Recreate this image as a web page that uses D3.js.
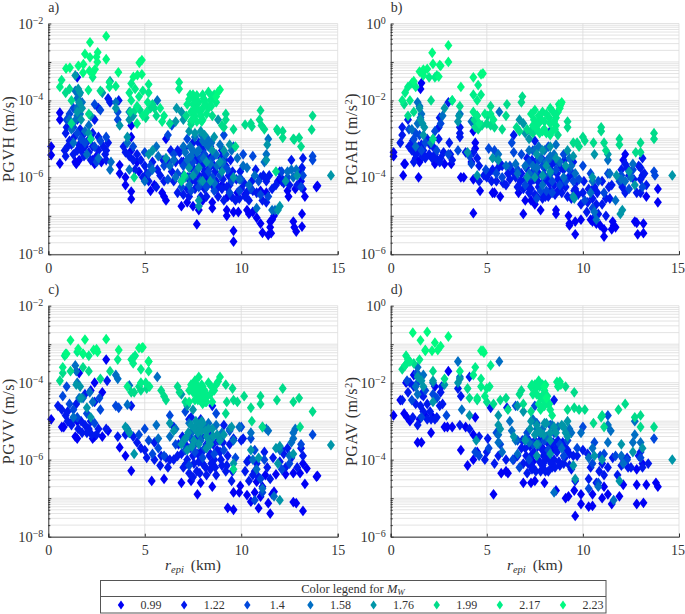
<!DOCTYPE html>
<html><head><meta charset="utf-8">
<script src="https://cdn.jsdelivr.net/npm/d3@7"></script>
<style>html,body{margin:0;padding:0;background:#fff}svg{display:block}text{font-family:"Liberation Serif",serif;fill:#333}</style>
</head><body><svg id="c" width="685" height="614"></svg>
<script>
const magnitudes=["0.99","1.22","1.4","1.58","1.76","1.99","2.17","2.23"];
const colors=["#0000f5","#0018ee","#0048dc","#006ec4","#0096a8","#00dc8a","#00ee88","#00fa80"];
const xTicks=[0,5,10,15];

// each point: [r_epi km, log10 of the peak value]
const a_099=[[0.6,-5.64],[0.15,-5.42],[0.15,-5.2],[1.4,-5.6],[1.45,-5.65],[1.6,-5.55],[2.3,-5.55],[2.4,-5.65],[2.5,-5.45],[2.75,-5.6],[3.7,-5.68],[3.7,-5.9],[4,-6],[4,-6.2],[4.3,-6.56],[4.3,-6.37],[4.3,-5.3],[4.6,-5.6],[4.7,-5.85],[5.3,-6.35],[5.5,-6.2],[5.9,-6.4],[6,-6.5],[6.1,-6.6],[6.9,-6.75],[7.2,-6.65],[7.5,-6.75],[7.7,-7.22],[7.8,-6.85],[8,-6.6],[8.5,-6.65],[8.5,-6.8],[9.25,-6.85],[9.25,-7],[9.6,-7.39],[9.6,-7.67],[9.6,-6.9],[9.85,-6.9],[10.3,-6.85],[10.4,-6.95],[10.6,-6.9],[10.8,-7.05],[11,-7.2],[11.1,-7.44],[11.4,-7.5],[11.55,-7.45],[11.5,-7.3],[11.6,-7.1],[11.5,-7.15],[11.7,-7],[12.7,-7.15],[12.75,-7.3],[12.85,-7.41],[13.15,-7.28],[13.15,-6.95],[13.3,-6.5],[13.2,-6.3],[13.9,-6.25],[13.95,-6.22],[13.1,-6.1],[12.8,-6.3],[12.45,-6.5],[12.4,-6.35],[12.1,-6.1],[11.9,-6.1],[1.5,-3.4],[0.6,-4.32],[0.6,-4.5],[4.3,-4.65],[4.3,-4.95],[6.1,-5],[7,-5.6],[8,-5.3],[8.4,-5.5],[9,-5.3],[9.2,-5.7],[7.4,-6.1],[7.9,-6.2],[8.2,-6.1],[8.7,-6.3],[9,-6.2],[9.3,-6.5],[9.8,-6.4],[10.2,-6.45],[10.5,-6.3],[11,-6.35],[11.3,-6.4]];
const a_122=[[1.2,-5.15],[1.5,-5.3],[1.9,-5.2],[2.1,-5.35],[2.2,-5.55],[2.5,-5.5],[2.95,-5.4],[3,-5.55],[3.1,-5.1],[3,-5.3],[3.9,-5.2],[4,-5.35],[4.2,-5.45],[4.4,-5.55],[4.5,-5.8],[4.9,-6],[5,-5.7],[5.2,-6.1],[5.6,-6.25],[5.8,-5.95],[6,-6.1],[6.4,-5.85],[6.5,-6.1],[6.7,-6.4],[6.9,-6.1],[7,-6.45],[7,-5.95],[7.2,-6.3],[7.3,-6.5],[7.4,-6],[7.5,-5.75],[7.6,-6.3],[7.8,-5.95],[7.9,-6.5],[8,-6.1],[8.1,-6.3],[8.2,-6.5],[8.3,-5.95],[8.5,-6.2],[8.7,-6.1],[8.8,-6.5],[9,-6.3],[9.1,-6.6],[9.4,-6.2],[9.5,-6.5],[9.7,-6.6],[9.9,-6.55],[10,-6.3],[10.2,-6.5],[10.4,-6.6],[10.6,-6.35],[10.8,-6.4],[11.1,-6.6],[11,-6],[11.3,-6.1],[11.3,-6.65],[12,-5.85],[12.05,-6],[12.5,-6.2],[12.9,-6.2],[13.1,-5.8],[13.2,-5.5],[13.15,-5.75],[1,-5.2],[0.9,-4.85],[0.95,-4.7],[2.2,-5],[2.4,-4.5],[1.5,-4.5],[2.6,-4.2],[3.65,-4],[3.1,-3.95],[4.6,-5.4],[7.8,-5.1],[7.6,-5.5],[8,-5.7],[8.6,-5.7],[7.3,-5.5],[6.7,-5.3],[7.5,-5.1],[7.8,-5.6],[8.3,-5.6],[8.9,-5.7],[7.2,-6],[6.9,-5.6],[6.6,-5.6],[8.4,-5.2],[8.1,-5.85],[7.4,-5.75],[1.8,-4.9],[2.3,-5.2],[1.3,-5.4],[0.9,-5.45],[1.7,-5.3],[2.6,-5.3]];
const a_122b=[[6.8,-5.35],[7.05,-5.25],[7.25,-5.7],[7.45,-5.45],[7.55,-6.05],[7.7,-5.5],[7.75,-6.15],[7.95,-5.25],[8.05,-5.95],[8.15,-5.45],[8.25,-6.2],[8.35,-5.75],[8.45,-6.05],[8.55,-5.35],[8.65,-5.85],[8.8,-6.25],[8.95,-5.5],[9.05,-6.05],[9.15,-5.55],[9.25,-6.25],[9.35,-5.95],[9.45,-5.55],[9.55,-5.85],[9.75,-6.05],[9.95,-5.85],[10.15,-6.15],[10.35,-6.35],[10.55,-6.1],[10.75,-5.8],[11.15,-5.95],[11.45,-5.95],[11.6,-6.3],[11.8,-6.2],[12.2,-6.15],[12.6,-5.55],[12.95,-5.9],[5.4,-5.6],[5.65,-5.8],[5.95,-5.55],[6.25,-5.6],[6.35,-5.3],[4.8,-5.55],[5.1,-5.9],[1.1,-5.05],[1.35,-4.95],[1.6,-5.15],[1.85,-5.45],[2.05,-5.05],[2.3,-4.85],[2.6,-4.95],[2.85,-5.2],[0.85,-5.3],[1.65,-4.75],[3.2,-4.05]];
const a_14=[[0.95,-4.5],[1.1,-4.35],[1.3,-4.2],[1.3,-4.7],[1.5,-4.85],[1.7,-5],[1.9,-5.1],[2.5,-5.6],[2.4,-5.2],[2.7,-5.05],[3,-4.95],[2.4,-4.1],[2.7,-4.25],[3.6,-4.3],[3.6,-4.5],[4.4,-5.2],[5,-5.35],[5.3,-5.7],[5.2,-5.9],[6,-5.7],[6.2,-6.05],[6.2,-4.9],[6.4,-4.65],[6.5,-5.4],[6.7,-5.9],[7,-5.7],[7.2,-5],[7.3,-6],[7.5,-5.6],[7.7,-5.8],[7.9,-5.5],[8.1,-5.4],[8.3,-5.85],[8.5,-5.5],[8.5,-6],[8.9,-5.95],[9.1,-5.7],[9.1,-4.9],[9.3,-5.8],[9.5,-6.1],[9.6,-5.2],[10,-6.05],[10.1,-5.4],[10.5,-6.3],[10.6,-5.45],[10.9,-6.1],[11,-6.45],[11.4,-6.5],[12.1,-5.85],[12.4,-6],[13.1,-6.25],[13.2,-5.95],[13.7,-5.45],[13.7,-5.55],[9.9,-6.35],[7.8,-6.25],[8.6,-6.35],[9.4,-6.4],[6.9,-6.25],[7.4,-6.35],[8.2,-6.25]];
const a_158=[[1.4,-3.75],[1.5,-3.95],[1.6,-3.85],[1.55,-4.15],[1.2,-4.75],[1.3,-5.1],[1.9,-4.8],[2,-5.4],[2.6,-5.5],[3.25,-5.6],[3.2,-5.8],[3.5,-4.05],[4.2,-4.3],[4.1,-5.1],[4.2,-5.8],[5,-6.1],[5.4,-5.8],[5.6,-5.2],[5.7,-5.45],[5.65,-4],[6.3,-5.7],[6.5,-5.55],[6.6,-6],[7,-5.2],[7.2,-5.55],[7.3,-6.2],[7.5,-5.3],[7.6,-5.9],[7.8,-5.3],[7.9,-6.1],[8,-5.05],[8.2,-5.15],[8.4,-5.65],[8.6,-6.15],[8.7,-5.4],[8.9,-5.15],[9.2,-5.4],[9.5,-5.3],[9.8,-5.5],[9.9,-6.05],[10.1,-5.7],[10.3,-5.75],[10.4,-6.2],[10.7,-5.95],[10.8,-6.8],[11.2,-5.6],[11.3,-5.4],[11.4,-5],[11.6,-6.85],[11.75,-6.85],[12.4,-5.85],[12.6,-5.8],[12.85,-5.8],[12.7,-6],[7.6,-4.95],[8.3,-5.2],[2.1,-4.65],[1.1,-4.5]];
const a_158b=[[7.1,-5.35],[7.35,-5.2],[7.7,-5.35],[8.05,-5.5],[8.25,-5],[8.45,-5.1],[7.95,-4.9],[7.4,-5.45],[8.75,-5.7],[9.05,-5.6],[1.5,-4.4],[1.35,-4.55],[1.65,-4.35],[1.5,-4.2],[1.75,-4.05]];
const a_176=[[1.4,-3.35],[1.55,-3.7],[1.65,-3.8],[1.6,-4.05],[1.75,-4.2],[1.5,-4.3],[1.7,-4.5],[2.1,-4.85],[2.2,-4.4],[2.8,-3.8],[3.5,-4.2],[3.2,-3.5],[4.1,-4.95],[4.2,-4.5],[4.4,-4.4],[5.2,-5.4],[5.4,-5.3],[6.1,-5.5],[6.6,-4.55],[6.65,-4.2],[6.9,-4.3],[7,-4.5],[7.3,-4.8],[7.6,-4.85],[7.9,-4.8],[8.1,-4.9],[8.6,-4.95],[8.8,-4.5],[9,-5.85],[9.1,-5.3],[9.4,-5.15],[7.5,-5.95],[7.8,-5.75],[7.1,-6],[8.4,-6.1],[8.9,-5.6],[9.6,-6],[7.8,-6.6],[7.8,-6.75],[8,-6.1],[8.5,-5.3],[11.9,-6.85],[12,-6.75],[14.65,-5.95],[11.35,-5.15],[11.3,-5.55],[12.3,-6.1],[12.9,-5.95],[3.7,-4.65],[8.2,-5.6],[7.3,-5.75]];
const a_199=[[1.1,-3.7],[0.9,-3.8],[1.2,-4],[2.7,-3.75],[1.2,-4.6],[2.1,-4.35],[2.2,-5],[4.45,-6.0],[7.05,-5.95],[6.9,-6.1],[10.2,-4.63],[10.5,-4.6],[10.55,-4.68],[11,-4.26],[10.95,-4.5],[11.05,-4.65],[11.2,-4.75],[11.85,-4.75],[11.9,-4.8],[12.15,-4.8],[12.15,-4.97],[12.7,-5],[12.75,-5.02],[13,-4.97],[13.1,-5.2],[13.7,-4.4],[13.65,-4.76],[9.2,-4.35],[9.2,-4.5],[9.1,-4.7],[9.6,-4.75],[9.7,-5.2],[9,-4.65],[6.3,-4.6],[7.4,-4.62],[5.5,-4.2],[5.6,-4.4],[11.8,-5.85]];
const a_199b=[[7.15,-4.4],[7.4,-4.55],[8.5,-4.4],[4.25,-4.3],[4.5,-4.25],[4.75,-4.25],[5.3,-4.2],[5.05,-4.45],[5.4,-4.1]];
const a_217=[[0.69,-3.47],[0.6,-3.65],[2.3,-3.4],[3.17,-3.53],[3.5,-3.63],[4.3,-3.56],[5.2,-3.58],[6.78,-3.53],[6.78,-3.7],[2.08,-3.73],[3.17,-3.65],[4.2,-3.8],[4.5,-3.7],[4.7,-3.9],[4.9,-3.75],[5.2,-3.8],[5.15,-4.05],[4.3,-4],[4.6,-4.15],[7.3,-3.97],[7.5,-3.85],[7.7,-3.87],[8,-3.85],[8.3,-3.78],[8.5,-3.9],[7.2,-4.1],[7.5,-4.1],[7.8,-4.05],[8.1,-4],[8.4,-4],[8.7,-4.05],[7.4,-4.3],[7.7,-4.2],[8,-4.2],[8.3,-4.2],[7.6,-4.4],[7.9,-4.4],[8.2,-4.35],[7.7,-4.55],[8,-4.5],[5.8,-4.2],[6,-4.4],[5.9,-4.55],[4.6,-4.6],[4.9,-4.4],[5.1,-4.3]];
const a_217b=[[7.35,-3.85],[7.6,-4],[7.85,-4.3],[8.15,-4.1],[8.45,-4.15],[8.6,-3.85],[7.55,-4.25],[8.05,-3.95],[7.95,-4.55],[7.45,-4.5]];
const a_223=[[3,-2.33],[2.16,-2.49],[1.9,-2.79],[2.56,-2.75],[2.16,-2.88],[2.5,-2.87],[3,-2.93],[2.54,-3],[4.85,-2.95],[4.72,-3.02],[0.92,-3.17],[1.12,-3.15],[1.56,-3.1],[1.82,-3.06],[2.13,-3.23],[2.42,-3.19],[3.63,-3.27],[4.85,-3.32],[4.41,-3.39],[4.62,-3.34],[8.8,-3.78],[8.7,-3.9],[8.9,-3.72],[1.8,-3.28],[2.3,-3.28]];

const b_099=[[0.15,-3.35],[0.15,-3.45],[0.65,-3.95],[0.7,-3.65],[0.75,-3.65],[1.45,-4],[1.3,-3.5],[1.5,-3.6],[2.3,-3.65],[2.8,-3.65],[3.15,-3.65],[3.65,-4],[3.8,-4],[4.3,-4.05],[4.2,-3.6],[4.65,-4.35],[4.3,-4.93],[5.4,-4.4],[5.3,-4.4],[5.7,-4.5],[6.9,-4.95],[6.65,-4.4],[7,-4.6],[7.3,-4.6],[7.5,-4.7],[7.8,-4.85],[8.6,-4.85],[8.6,-4.95],[9.25,-5],[9.3,-5.2],[9.3,-5.25],[9.6,-5.15],[9.6,-5.48],[9.9,-5.1],[10.4,-5.1],[10.5,-5.15],[10.7,-5.2],[10.9,-5.25],[11.1,-5.35],[11.1,-5.54],[11.5,-5.35],[11.6,-5.25],[11.7,-5.3],[11.55,-5.15],[12.7,-5.15],[12.8,-5.18],[12.85,-5.48],[13.15,-5.45],[13.15,-5.2],[13.3,-4.5],[13.9,-4.3],[13.9,-4.65],[13.1,-3.95],[12.2,-3.4],[12.1,-3.55],[4.3,-2.8],[4.4,-3.1],[4.4,-3.25],[1.6,-1.55],[1.55,-1.7]];
const b_122=[[0.5,-3.1],[0.6,-2.9],[0.6,-2.7],[0.9,-2.5],[1,-3.2],[1.3,-3.4],[1.4,-3.35],[1.7,-3.3],[1.9,-3],[2,-3.4],[2.3,-3.4],[2.5,-3],[2.5,-2.7],[2.55,-2.45],[3,-2.05],[3.05,-3.1],[3.1,-3.4],[3.2,-3.55],[3.6,-2.7],[3.6,-2.85],[3.6,-2.95],[3.9,-3.35],[4.3,-3.35],[4.5,-3.5],[4.6,-3.7],[4.6,-4.1],[5,-4],[5.1,-3.9],[5.5,-4.1],[5.7,-3.65],[6,-4.2],[6.1,-3.9],[6.5,-4],[6.9,-4.3],[7,-4.05],[7.2,-4.4],[7.3,-4.1],[7.6,-4.5],[7.7,-3.9],[7.9,-4.4],[8,-4.1],[8.2,-4.5],[8.3,-3.7],[8.5,-4.2],[8.7,-4.35],[8.9,-4.1],[9,-3.8],[9.2,-4.5],[9.5,-3.6],[9.6,-4.3],[9.9,-4.7],[10,-4.4],[10.2,-4.9],[10.3,-4.3],[10.5,-4.55],[10.7,-4.7],[11,-4.1],[11.2,-4.55],[11.4,-4.55],[11.5,-4.2],[12,-3.8],[12.2,-3.65],[12.2,-4.4],[12.4,-3.95],[12.8,-4.4],[12.9,-3.7],[13,-4.05],[13,-4.4],[13.1,-3.5],[13.2,-3.9],[13.3,-4.2],[8.3,-2.8],[6.4,-2.9],[7.5,-3.05],[7.1,-3.5],[7.4,-3.85],[7.7,-4.25],[8,-3.75],[8.2,-4],[8.5,-3.6],[8.7,-4.05],[9.1,-4.25],[7.3,-4.3],[7.5,-4.45],[7.9,-4.55],[8.3,-4.35],[6.6,-4.25],[6.8,-3.9],[6.2,-4.05],[5.8,-3.7],[5.3,-3.8],[1.6,-3.15],[1.8,-3.5],[2.2,-3.2],[2.6,-3.5],[1.2,-3.6],[1.1,-3.3],[9.4,-4.55],[9.7,-4.1],[10.6,-4.25],[10.8,-4.95],[11.2,-5],[8.9,-4.4]];
const b_122b=[[6.75,-4.1],[7.05,-3.75],[7.15,-4.25],[7.35,-3.55],[7.45,-4.05],[7.55,-3.6],[7.65,-4.1],[7.85,-3.5],[7.95,-4],[8.05,-4.5],[8.15,-3.55],[8.25,-4.15],[8.4,-3.85],[8.55,-4.45],[8.65,-3.9],[8.85,-3.75],[8.95,-4.2],[9.05,-3.55],[9.25,-4],[9.45,-3.9],[9.55,-4.35],[9.75,-4.45],[10.05,-4.1],[10.25,-4.65],[10.45,-4.35],[10.65,-5],[10.75,-4.4],[11,-4.7],[11.35,-4.25],[12.05,-4.25],[12.3,-3.75],[12.65,-4.05],[13,-3.75],[5.25,-4.1],[5.6,-3.75],[5.85,-4.15],[6.35,-3.85],[4.85,-3.95],[1.15,-3.05],[1.45,-3.2],[1.75,-3.45],[2.05,-3.15],[2.35,-3.5],[2.75,-3.35],[0.95,-3.2],[1.65,-3.45],[2.15,-3.5],[2.55,-3.6]];
const b_14=[[0.95,-2.75],[1.2,-3],[1.3,-2.85],[1.5,-2.9],[1.6,-3.3],[1.8,-3.1],[2.3,-2.8],[2.4,-3.3],[2.6,-2.6],[3,-3.4],[3.5,-3.3],[4.1,-3.45],[4.2,-3.65],[4.95,-3.8],[5.1,-3.25],[5.4,-3.3],[5.5,-3.9],[5.8,-4],[6.2,-3.7],[6.3,-3.1],[6.4,-3.35],[6.6,-3.8],[6.8,-3.4],[7,-4.2],[7.2,-3.6],[7.4,-3.3],[7.5,-3.9],[7.6,-4.55],[7.9,-3.7],[8.1,-4.35],[8.3,-3.5],[8.4,-4.4],[8.6,-3.8],[8.7,-3.6],[9,-3.4],[9.1,-4.1],[9.3,-3.8],[9.5,-4.1],[9.8,-4.05],[10,-3.7],[10.1,-4.6],[10.4,-3.9],[10.5,-4.8],[10.8,-4.1],[11.1,-4.4],[11.3,-3.9],[11.9,-4.1],[12,-3.95],[12.4,-4.3],[12.6,-3.8],[13.1,-4.25],[13.7,-3.85],[13.75,-3.95],[7.3,-3.95],[7.7,-3.55],[8,-3.95],[8.2,-3.2],[8.8,-4.2],[7.8,-4.35],[8.4,-4.1]];
const b_158=[[1.4,-2.05],[1.5,-2.15],[1.6,-2.35],[1.4,-2.6],[1.55,-2.45],[1.1,-2.75],[1.3,-3.2],[2.2,-3],[2.7,-2.4],[3.6,-2.35],[4.2,-2.55],[4.4,-2.6],[5.5,-3.5],[5.6,-3.4],[5.65,-2.3],[6,-3.7],[6.5,-3.65],[6.6,-3.9],[7,-3.7],[7.2,-3.9],[7.4,-3.7],[7.5,-3.3],[7.8,-3.5],[7.9,-4.2],[8.1,-3.6],[8.3,-3.9],[8.5,-3.4],[8.8,-3.6],[9,-4],[9.3,-3.5],[9.4,-3.7],[9.6,-3.9],[10.4,-4.4],[10.5,-4.1],[10.6,-4.9],[10.7,-5.1],[11.3,-3.55],[11.4,-3.9],[11.7,-4.6],[12,-4.05],[12.2,-4.1],[12.5,-4],[12.6,-3.65],[7.7,-3.2],[8,-3.3],[8.3,-3.45],[7.2,-3.3],[7.6,-3.75],[8.6,-3.15]];
const b_176=[[1.5,-2.2],[1.55,-2.5],[1.65,-2.6],[1.75,-2.7],[1.7,-2.9],[2.1,-3.1],[2.8,-2.2],[3.55,-2.4],[3.5,-2.55],[4.5,-2.4],[4.5,-3.95],[4,-3.35],[5.3,-3.5],[5.6,-3.55],[6.7,-2.5],[6.9,-2.6],[7,-2.85],[7.2,-3],[7.6,-3.4],[7.9,-3.3],[8.1,-3.7],[8.3,-3.2],[8.6,-3.5],[9.2,-3.3],[9.5,-3.45],[9.1,-3.7],[7.1,-4],[7.5,-4],[7.9,-3.95],[8.3,-3.85],[9.5,-4.5],[9.55,-4.55],[10.5,-4],[10.6,-3.4],[12.05,-4.85],[11.95,-4.95],[14.65,-3.95],[12.7,-4.2],[12.4,-3.85],[11.75,-3.95],[11.3,-3.4]];
const b_199=[[0.9,-2.4],[0.7,-2.1],[1.2,-2.3],[2.2,-3],[2.1,-2],[3.2,-2],[3.6,-2.15],[4.4,-2.7],[5,-2.6],[5.2,-2.65],[5.2,-2.15],[6,-2.4],[6.05,-2.1],[6.8,-2.05],[6.85,-1.9],[7.4,-2.85],[9.2,-2.55],[9.2,-2.7],[9.5,-3.1],[9.7,-3.1],[9.8,-3.2],[10,-2.95],[10.1,-3.05],[10.55,-3.1],[10.95,-2.7],[10.95,-2.8],[11.1,-3.1],[11.2,-3.3],[11.9,-3],[11.9,-3.15],[12.75,-3.35],[13,-3.1],[13,-3.35],[13.7,-2.85],[13.7,-3],[8.7,-2.9],[5.8,-2.75]];
const b_199b=[[7.1,-2.75],[7.3,-2.8],[6.55,-2.7],[6.7,-2.8],[4.35,-2.5],[4.75,-2.65],[5.05,-2.4],[5.4,-2.7],[4.55,-2.75]];
const b_217=[[0.6,-2],[0.75,-1.8],[0.9,-1.65],[1,-2],[1.1,-1.55],[1.3,-1.65],[1.7,-1.25],[2,-1.4],[2.3,-1.4],[2.4,-1.35],[3.2,-2],[4.3,-1.85],[4.5,-2],[4.55,-1.6],[4.7,-1.85],[4.3,-2.3],[4.5,-2.4],[4.6,-2.6],[4.9,-2.35],[5.2,-2.35],[5.35,-2.5],[7.3,-2.35],[7.5,-2.25],[7.6,-2.6],[7.7,-2.4],[7.9,-2.3],[8,-2.55],[8,-2.75],[8.3,-2.2],[8.3,-2.6],[8.6,-2.45],[8.6,-2.65],[7.6,-2.75],[7.9,-2.8],[8.3,-2.9],[8.4,-2.8],[8.8,-2.15],[8.7,-2.3],[8.85,-2.1]];
const b_217b=[[7.45,-2.5],[7.7,-2.6],[7.85,-2.5],[8.1,-2.35],[8.25,-2.45],[8.45,-2.3],[8.5,-2.55],[7.4,-2.65],[8.1,-2.85],[7.75,-2.85],[8.55,-2.75],[8.75,-2.1]];
const b_223=[[3,-0.57],[2.16,-0.76],[3,-1],[2.2,-1.05],[2.55,-1.08],[2.6,-1.1],[1.7,-1.2],[1.9,-1.18],[1.7,-1.35],[4.8,-1.3],[4.7,-1.32],[4.3,-1.4],[3.65,-1.65],[2.5,-1.38],[8.9,-2.05],[8.8,-2.2],[1.5,-1.25],[1.2,-1.5]];

const c_099=[[0.15,-4.95],[0.7,-5.15],[0.8,-5.15],[1.4,-5.4],[1.5,-5.45],[2.3,-5.45],[2.4,-5.4],[2.8,-5.4],[3.1,-5.25],[3.7,-5.68],[4,-5.9],[4.3,-6.29],[5.36,-6.55],[6,-6.5],[6.9,-6.6],[7.4,-6.55],[7.73,-6.9],[7.9,-6.6],[8.5,-6.7],[9.6,-6.85],[9.9,-6.85],[9.95,-6.68],[10.3,-6.92],[9.3,-7.25],[9.6,-7.3],[10.5,-7.09],[10.9,-7.26],[11.4,-7.13],[11.5,-7.4],[11,-6.96],[11.7,-6.83],[12.7,-7.1],[12.85,-7.13],[13.2,-7.33],[13.3,-6.63],[13.9,-6.44],[13.95,-6.42],[13.4,-6.23],[12.3,-6.38],[12.7,-6.35],[13.05,-6.35],[11.8,-6.38],[11.25,-6.4],[10.8,-6.57],[11.1,-6.7],[10.7,-6.85],[11.6,-6.9],[1.6,-3.75],[3,-3.4],[2.4,-4],[2.2,-4.2],[2.8,-4.25],[1.5,-5],[13.2,-6.1]];
const c_122=[[0.5,-4.6],[0.7,-4.7],[0.9,-4.85],[1,-5],[1.2,-5.1],[1.7,-5],[1.9,-5.1],[2.1,-5.2],[2.6,-5.2],[3,-5.2],[3.6,-5.4],[4,-5.35],[4.4,-5.4],[4.6,-5.55],[4.8,-5.7],[5.1,-5.95],[5.5,-6],[5.8,-6.15],[6.2,-6.2],[6.5,-6],[6.9,-5.85],[7,-6.2],[7.2,-6],[7.3,-6.35],[7.5,-5.9],[7.7,-6.3],[7.9,-5.8],[8,-6.1],[8.2,-6.4],[8.4,-5.85],[8.6,-6],[8.7,-6.4],[8.9,-5.8],[9,-6.15],[9.2,-6.3],[9.5,-6.55],[10.2,-6.3],[10.4,-6.55],[10.7,-6.3],[10.8,-6.1],[11.2,-5.8],[11.5,-6.5],[12,-6.05],[12.3,-6.2],[12.9,-6.2],[13.1,-5.7],[13.2,-5.9],[3.05,-3.95],[2.4,-4.5],[7.4,-4.9],[7.9,-4.95],[8.3,-5.3],[9.1,-5.1],[9.6,-5.45],[10.1,-5.45],[8.5,-4.6],[4.3,-4.6],[5,-5.75],[6.5,-5.15],[7.3,-4.95],[7.1,-5.6],[7.6,-5.6],[8.2,-5.6],[8.8,-5.5],[7.8,-6.05],[8.4,-6.25],[7.5,-6.45],[9.3,-5.9],[6.7,-5.9],[10.4,-6],[10.9,-6.45],[12.1,-5.75],[12.6,-5.95]];
const c_122b=[[6.75,-5.6],[6.95,-5.4],[7.15,-6.1],[7.35,-5.7],[7.45,-5.25],[7.55,-6.1],[7.65,-5.45],[7.75,-5.85],[7.85,-6.35],[7.95,-5.4],[8.05,-5.75],[8.15,-6.2],[8.25,-5.15],[8.35,-5.9],[8.45,-6.1],[8.55,-5.6],[8.65,-6.2],[8.75,-5.75],[8.95,-6],[9.05,-5.55],[9.25,-6.15],[9.4,-5.6],[9.55,-6.3],[1,-4.75],[1.25,-5],[1.55,-5.2],[1.75,-5.3],[2,-5.3],[2.25,-5.35],[2.5,-5.35],[2.2,-5],[1.45,-4.55],[1.9,-4.3],[5.85,-5.9],[5.5,-5.55],[6.1,-5.95],[6.3,-6],[10,-5.5],[10.3,-6.05],[10.6,-6.4],[11.35,-6.2],[11.65,-5.95],[12.2,-5.85],[12.4,-5.7]];
const c_14=[[0.75,-4.35],[0.95,-4.1],[1.1,-4.55],[1.3,-4.7],[1.5,-4.9],[2,-4.8],[2.4,-5.05],[2.65,-4.4],[2.7,-4.7],[3.5,-4.6],[3.65,-4.65],[4.2,-5.3],[4.7,-5.35],[5,-5.2],[5.2,-5.5],[5.4,-5.85],[5.7,-5.7],[6.3,-4.85],[6.6,-5.6],[7.1,-4.75],[7.1,-5.75],[7.4,-5.45],[7.6,-5.8],[7.8,-5.35],[8.1,-5.7],[8.3,-5.45],[8.6,-5.85],[8.9,-5.5],[9.1,-5.75],[9.4,-5.25],[9.7,-5.95],[10,-5.15],[10.5,-5.45],[10.7,-5.75],[11.2,-6],[11.1,-6.85],[10.7,-7.05],[11,-6.5],[12.1,-6.25],[12.5,-6.1],[13.1,-5.6],[13.7,-5.35],[8.7,-4.8],[6,-5.9],[7.3,-6.15],[8,-5.95]];
const c_158=[[1.4,-3.55],[1.45,-3.7],[1.5,-4],[1.6,-4.4],[1.3,-4.9],[1.8,-4.4],[2.15,-4.25],[2.3,-4.5],[3.5,-3.8],[3.6,-3.9],[4.2,-4.07],[4.1,-4.57],[4.1,-5.2],[5.6,-5.1],[5.65,-3.85],[5.7,-5.45],[6.3,-5.4],[6.6,-5.2],[7,-5.5],[7.2,-5.4],[7.3,-5.05],[7.5,-5.25],[7.7,-5.1],[7.9,-5.5],[8.1,-5.15],[8.3,-5.05],[8.5,-5.4],[8.7,-5.1],[9,-5.3],[9.4,-5.2],[9.6,-5.5],[9.9,-5.15],[10.5,-5.3],[10.6,-6],[10.8,-6.25],[11.1,-6.75],[11.3,-5.2],[11.4,-5.25],[11.7,-6.95],[12.6,-5.55],[12.7,-5.45],[12.7,-5.3],[12.8,-5.2],[12,-5.75],[12.5,-5.9]];
const c_176=[[1.45,-4.05],[1.65,-4.1],[1.7,-4.4],[2,-4.65],[2.2,-4.9],[4,-5.15],[4.2,-5.3],[4.45,-5.85],[6.3,-5.05],[6.5,-5.25],[6.9,-5.6],[7.1,-5.45],[7.4,-5.1],[7.6,-5.2],[7.8,-5.15],[8,-5.05],[8.2,-5.4],[8.5,-5.2],[8.9,-5.5],[9.1,-5.35],[9.5,-5.15],[7.8,-5.6],[7.2,-5.75],[8.2,-5.7],[8.4,-5.6],[6.9,-4.3],[7.2,-4.6],[7.5,-4.7],[12,-7.05],[14.65,-5.62],[11.1,-5.15],[12,-5.65],[11.8,-5.7],[12.7,-5.85],[10.5,-5.75],[10.9,-5.95],[9.6,-6.1],[11.9,-6.1]];
const c_176b=[[7.25,-5.3],[7.55,-5.5],[7.75,-5.3],[7.95,-5.25],[8.15,-5.25],[8.35,-5.55],[8.55,-5.4],[7.45,-5.65],[8.75,-5.35],[7.65,-5],[7.95,-5],[8.3,-5.2]];
const c_199=[[0.75,-3.75],[1.15,-3.7],[2.7,-3.9],[0.6,-3.95],[1.8,-3.6],[2.1,-3.7],[3.2,-3.7],[4.3,-4.25],[4.45,-4.25],[4.8,-4.2],[5.1,-4.15],[5.85,-4.2],[6,-4.35],[6.1,-4.45],[6.7,-4.1],[6.8,-4.25],[7.1,-4.5],[9.2,-4.05],[9.55,-4.15],[9.6,-4.45],[9.8,-4.5],[10.15,-4.35],[9.25,-4.5],[9.2,-4.8],[10.5,-4.65],[11,-4.35],[11,-4.55],[11.1,-5.15],[11.85,-4.45],[12.15,-4.15],[12.7,-4.5],[13,-4.4],[13.05,-5.15],[13.7,-4.75],[10.55,-5],[9.6,-6.25],[4.7,-4.1]];
const c_217=[[0.75,-3.6],[0.85,-3.3],[0.9,-3.25],[1.5,-3.2],[1.8,-3.25],[2.1,-3.3],[3.6,-3.4],[4.3,-3.4],[4.4,-3.35],[4.4,-3.5],[4.5,-3.3],[4.8,-3.65],[5.2,-3.7],[5.05,-4],[4.8,-4],[5.2,-3.45],[7.4,-4.05],[7.6,-3.95],[7.8,-3.85],[8,-4.1],[7.5,-4.25],[7.7,-4.3],[7.9,-4.25],[8.1,-4.2],[8.4,-4.3],[8.3,-4],[8.6,-4.2],[7.9,-4.4],[7.6,-4.45],[8.2,-4.5],[8.5,-4.5],[8.8,-3.97],[8.9,-3.85],[8.7,-4.05],[8,-4.55],[7.3,-4.5],[7.3,-4.2],[4.1,-4.1],[5.25,-4.1]];
const c_217b=[[7.5,-4.1],[7.7,-4.05],[7.95,-4.05],[7.75,-4.45],[8.05,-4.35],[8.25,-4.35],[8.45,-4.1],[7.85,-4.15],[7.65,-4.15],[8.15,-4.5],[7.95,-4.5]];
const c_223=[[1.15,-2.9],[1.9,-2.88],[3,-2.87],[1.55,-3.12],[2.35,-3.15],[2.5,-3.13],[2.55,-3.2],[4.85,-3.1],[4.7,-3.1],[4.9,-3.08],[3.65,-3.15],[5.2,-3.45],[0.95,-3.25],[1.8,-3.25]];

const d_099=[[0.15,-2.85],[0.5,-2.45],[0.7,-2.8],[0.85,-2.9],[1,-3],[1.4,-3.55],[1.6,-3.55],[1.5,-2.95],[1.8,-2.85],[2.1,-3.3],[2.2,-2.9],[2.8,-3.15],[2.95,-3.15],[3.2,-3.15],[3.65,-3.75],[3.9,-3.15],[4,-4.15],[4.3,-3.35],[4.4,-2.9],[4.3,-4],[4.5,-3.8],[5.35,-4.9],[5.75,-4.35],[6,-4.3],[6.1,-4.35],[6.9,-4.6],[7.3,-4.6],[7.5,-4.55],[8,-4.6],[8.6,-4.8],[9.6,-5.46],[9.25,-4.95],[9.55,-4.8],[9.9,-5.15],[9.9,-4.9],[10.3,-5.22],[10.5,-5.2],[10.5,-4.9],[11,-5],[11.3,-4.9],[11.5,-5.15],[11.1,-4.7],[11.9,-4.95],[12.8,-5.15],[13.15,-5.12],[13.3,-4.65],[13.8,-4.6],[13.9,-4.7],[13.1,-4.1],[12.8,-4.25],[12.1,-4.65],[12.8,-4.65],[1.2,-1.8],[1.5,-1.9],[0.8,-2],[2.3,-2.1],[3,-1.7],[9.1,-5],[7.9,-3.7],[8.2,-3.95],[8.4,-3.75],[7.4,-4.05]];
const d_122=[[0.6,-2.45],[1,-2],[1.2,-2.1],[1.6,-2.3],[1.7,-2.35],[1.9,-2.55],[2.1,-2.95],[2.4,-2.9],[2.6,-2.25],[2.7,-2.55],[2.65,-2.1],[3.5,-2.15],[3.65,-2.35],[3.6,-3.1],[4.1,-1.85],[4.1,-3.2],[4.6,-3.4],[4.9,-4],[5,-3.8],[5.05,-3.45],[5.6,-3.9],[5.4,-4.1],[6,-4],[6.4,-4],[6.6,-3.9],[6.9,-4.1],[7,-3.7],[7.1,-4.35],[7.3,-3.9],[7.4,-4.2],[7.5,-3.5],[7.6,-3.9],[7.8,-4.3],[7.9,-3.75],[8,-4.05],[8.2,-4.3],[8.3,-3.6],[8.5,-4],[8.7,-3.5],[8.8,-4.15],[9.1,-3.7],[9.3,-3.85],[9.4,-4.25],[10,-3.75],[10.3,-4.5],[10.4,-4.2],[10.7,-4.6],[11,-4.1],[11.3,-4.2],[11.8,-4.4],[12,-4.15],[12.3,-3.95],[12.5,-4.2],[12.9,-3.9],[13,-3.8],[13.1,-4.2],[13.4,-4.1],[6.05,-2.65],[8.5,-2.45],[5.2,-2.65],[7.2,-3.5],[7.7,-3.55],[8.1,-3.8],[8.6,-3.7],[7.3,-4.1],[8.4,-4.2],[7.9,-4.15],[6.8,-3.7],[9,-4.1],[9.6,-4.55],[9.7,-3.9]];
const d_122b=[[6.85,-3.5],[7.05,-3.9],[7.15,-4.1],[7.25,-3.65],[7.35,-4.25],[7.45,-3.8],[7.55,-4.3],[7.65,-3.65],[7.75,-4.05],[7.85,-3.4],[7.95,-3.9],[8.05,-4.3],[8.15,-3.55],[8.25,-3.95],[8.35,-4.1],[8.45,-3.55],[8.55,-4.2],[8.65,-3.8],[8.75,-4.05],[8.95,-3.55],[9.05,-3.95],[9.2,-3.75],[9.3,-4.15],[9.5,-3.9],[0.9,-2.25],[1.3,-2.55],[1.55,-2.6],[1.7,-2.75],[1.9,-2.95],[2.05,-2.75],[2.3,-2.95],[2.55,-2.6],[1.4,-3.1],[1.15,-2.9],[12.05,-3.95],[12.35,-4.2],[11.55,-3.95],[10.25,-3.85],[10.85,-4.3],[11.1,-4.4]];
const d_14=[[0.85,-1.95],[1.35,-1.75],[1.4,-2],[1.8,-2.2],[2.2,-2.3],[2.4,-2.4],[2.9,-2.85],[1.6,-2.9],[1.1,-2.45],[4.4,-3.8],[4.6,-3.9],[5.1,-3.7],[5.5,-3.3],[5.7,-3.6],[6.5,-2.6],[6.35,-4],[6.6,-3.5],[6.7,-4.2],[7.2,-4],[7.4,-3.6],[7.7,-3.3],[8,-3.5],[8.2,-3.75],[8.5,-3.3],[8.8,-3.6],[9,-3.9],[9.2,-3.5],[9.7,-3.7],[10,-3.15],[10.5,-4.1],[10.6,-3.55],[10.8,-4.6],[11.1,-3.85],[11.3,-2.85],[11.7,-3.9],[12.3,-4],[13,-3.95],[13.7,-3.45],[10.3,-4.75],[10.9,-3.9],[7.5,-2.6],[7.6,-3.05],[8.3,-3.1],[7.1,-3.3]];
const d_158=[[1.4,-1.6],[1.45,-1.8],[1.3,-2.1],[1.4,-2.3],[1.7,-1.8],[2.2,-2],[3.5,-1.45],[3.6,-1.85],[3.7,-2.7],[5.65,-1.45],[5.6,-3.35],[5.6,-3.55],[5.8,-3.8],[6.2,-3],[6.3,-3.25],[6.5,-3.5],[6.6,-3.85],[7,-3.45],[7.2,-3.55],[7.4,-2.95],[7.6,-3.2],[7.7,-3.6],[7.9,-3.2],[8.1,-3.4],[8.4,-3.1],[8.5,-4.85],[8.7,-3.15],[8.9,-3.7],[9.3,-3.2],[9.4,-3.3],[9.9,-3.3],[10.3,-3.95],[10.5,-3.7],[10.8,-4.7],[11.3,-3.1],[11.45,-3.25],[11.3,-3.55],[12,-3.9],[12.1,-4.1],[12.6,-3.55],[12.7,-3.35],[12.7,-3],[13,-3.55],[11.6,-5.05]];
const d_176=[[1.4,-1.85],[1.6,-1.95],[1.7,-2.1],[2.2,-1.95],[2.8,-2.05],[2.2,-2.5],[3.5,-2],[3.6,-1.9],[4.1,-2.85],[4.45,-3.5],[5.6,-3.1],[5.7,-3.2],[6.4,-3.4],[6.6,-2.6],[6.9,-2.75],[7,-3.5],[7.3,-3],[7.6,-3.6],[7.8,-3.3],[8,-3.05],[8.3,-3.5],[8.6,-3.3],[9,-3.15],[9.2,-3.4],[8.3,-3.85],[7.6,-3.9],[9.5,-4.15],[9.6,-4.5],[10.6,-3.9],[11,-4],[11.9,-4.55],[14.65,-4],[12,-3.6],[12.6,-3.8],[13.1,-3.7],[9.2,-3],[5.6,-2.85]];
const d_176b=[[7.25,-3.2],[7.5,-3.35],[7.7,-3.25],[7.95,-3.35],[8.1,-3.05],[8.3,-3.3],[7.6,-3.1],[8.5,-3.15],[8.9,-3.1],[9.1,-3.3]];
const d_199=[[0.75,-1.55],[0.6,-1.65],[1.2,-1.5],[2.2,-1.7],[2.8,-1.9],[4.1,-2.4],[4.5,-2.45],[5,-2.5],[6,-2.4],[6.1,-2.7],[6.7,-2.3],[6.8,-2.2],[6.9,-2.55],[7.3,-2.75],[9.2,-2.7],[9.55,-2.65],[9.55,-2.25],[9.8,-2.7],[10.1,-2.7],[9.1,-2.1],[10.55,-3.05],[10.95,-2.9],[11,-2.85],[11.1,-3.15],[11.85,-2.7],[12.2,-2.55],[12.7,-2.9],[13,-2.85],[13,-3.15],[13.7,-3.15],[5.35,-2.55],[5.7,-2.45],[4,-2.15]];
const d_217=[[0.75,-1.55],[0.8,-1.3],[0.9,-1.4],[1,-1.45],[1.5,-1.4],[1.8,-1.15],[3.6,-1.7],[4.4,-1.6],[4.3,-1.8],[4.5,-2.4],[4.7,-1.9],[4.7,-2.1],[4.9,-2.35],[5.15,-2.1],[5.2,-1.55],[5,-2.15],[7.3,-2.1],[7.5,-2.05],[7.7,-1.95],[7.9,-2.05],[7.6,-2.3],[7.8,-2.4],[8,-2.2],[8.2,-2.55],[8,-2.6],[7.8,-2.7],[8.3,-2.7],[8.4,-2.85],[8.8,-1.97],[8.85,-2.05],[8.7,-2.1],[8.65,-1.98]];
const d_217b=[[7.4,-2.3],[7.55,-2.15],[7.75,-2.1],[7.95,-2.3],[7.7,-2.55],[7.95,-2.45],[8.15,-2.35],[8.05,-2.05],[7.35,-2.05],[8.25,-2.55]];
const d_223=[[1.15,-0.7],[1.9,-0.68],[3,-0.8],[1.55,-0.9],[2.3,-0.96],[2.6,-1.05],[2.45,-1.15],[2.15,-1.17],[1.8,-1.17],[4.8,-1.17],[4.7,-1.17],[4.85,-1.22],[8,-2.1],[8.1,-2.4]];

const panels=[
 {tag:"a)",name:"PGVH",unit:"(m/s)",top:23.5,bot:254.3,left:48.3,right:337.7,dec:[-8,-2],ticks:[-8,-6,-4,-2],xlab:false,sets:[a_099,a_122.concat(a_122b),a_14,a_158.concat(a_158b),a_176,a_199.concat(a_199b),a_217.concat(a_217b),a_223]},
 {tag:"b)",name:"PGAH",unit:"(m/s",top:23.5,bot:254.3,left:390.7,right:679,dec:[-6,0],ticks:[-6,-4,-2,0],xlab:false,sets:[b_099,b_122.concat(b_122b),b_14,b_158,b_176,b_199.concat(b_199b),b_217.concat(b_217b),b_223]},
 {tag:"c)",name:"PGVV",unit:"(m/s)",top:305.7,bot:536.7,left:48.3,right:337.7,dec:[-8,-2],ticks:[-8,-6,-4,-2],xlab:true,sets:[c_099,c_122.concat(c_122b),c_14,c_158,c_176.concat(c_176b),c_199,c_217.concat(c_217b),c_223]},
 {tag:"d)",name:"PGAV",unit:"(m/s",top:305.7,bot:536.7,left:390.7,right:679,dec:[-6,0],ticks:[-6,-4,-2,0],xlab:true,sets:[d_099,d_122.concat(d_122b),d_14,d_158,d_176.concat(d_176b),d_199,d_217.concat(d_217b),d_223]}
];

const svg=d3.select("#c");
const gridC="#dcdcdc",axisC="#333";
function diamond(w,h){return `M0,${-h}L${w},0L0,${h}L${-w},0Z`;}

panels.forEach(p=>{
 const x=d3.scaleLinear().domain([0,15]).range([p.left,p.right]);
 const y=d3.scaleLog().domain([10**p.dec[0],10**p.dec[1]]).range([p.bot,p.top]);
 const g=svg.append("g");
 const minors=[];
 for(let e=p.dec[0];e<p.dec[1];e++) for(let m=1;m<10;m++) minors.push(m*10**e);
 minors.push(10**p.dec[1]);
 g.selectAll("line.gy").data(minors).join("line").attr("class","gy")
  .attr("x1",p.left).attr("x2",p.right)
  .attr("y1",d=>y(d)).attr("y2",d=>y(d))
  .attr("stroke",gridC).attr("stroke-width",0.8);
 g.selectAll("line.gx").data(xTicks.slice(1)).join("line").attr("class","gx")
  .attr("y1",p.top).attr("y2",p.bot)
  .attr("x1",d=>x(d)).attr("x2",d=>x(d))
  .attr("stroke",gridC).attr("stroke-width",0.8);
 p.sets.forEach((s,i)=>{
  g.append("g").selectAll("path").data(s).join("path")
   .attr("d",diamond(4,5.4))
   .attr("transform",d=>`translate(${x(d[0])},${y(10**d[1])})`)
   .attr("fill",colors[i]);
 });
 const ax=d3.axisBottom(x).tickValues(xTicks).tickSize(-3).tickFormat(d3.format("d"));
 const ag=g.append("g").attr("transform",`translate(0,${p.bot})`).call(ax);
 ag.select(".domain").attr("stroke",axisC);
 ag.selectAll("line").attr("stroke",axisC);
 ag.selectAll("text").attr("font-size",14).attr("dy","1.1em").style("fill","#333")
   .attr("dx",d=>(d===15&&p.right>670)?-1.5:0);
 const ay=d3.axisLeft(y).tickValues(minors).tickSize(0).tickFormat("");
 const yg=g.append("g").attr("transform",`translate(${p.left},0)`).call(ay);
 yg.select(".domain").attr("stroke",axisC);
 yg.selectAll(".tick line").attr("x2",d=>Math.abs(Math.log10(d)-Math.round(Math.log10(d)))<1e-6?3:2).attr("stroke",axisC);
 p.ticks.forEach(e=>{
  const t=g.append("text").attr("x",p.left-5).attr("y",y(10**e)+5).attr("text-anchor","end").attr("font-size",14.5);
  t.append("tspan").text("10");
  t.append("tspan").attr("dy",-5).attr("font-size",10).text(e===0?"0":"\u2212"+Math.abs(e));
 });
 g.append("text").attr("x",p.left).attr("y",p.top-11.5).attr("font-size",14).text(p.tag);
 const cy=(p.top+p.bot)/2;
 const lab=g.append("text").attr("transform",`translate(${p.left-34},${cy}) rotate(-90)`).attr("text-anchor","middle").attr("font-size",16).attr("letter-spacing",0.5);
 if(p.unit==="(m/s)") lab.text(p.name+" "+p.unit);
 else{
  lab.append("tspan").text(p.name+" "+p.unit);
  lab.append("tspan").attr("dy",-5).attr("font-size",10.5).text("2");
  lab.append("tspan").attr("dy",5).text(")");
 }
 if(p.xlab){
  const xl=g.append("text").attr("x",(p.left+p.right)/2).attr("y",p.bot+33).attr("text-anchor","middle").attr("font-size",15.5);
  xl.append("tspan").attr("font-style","italic").text("r");
  xl.append("tspan").attr("font-style","italic").attr("dy",3).attr("font-size",10.5).text("epi");
  xl.append("tspan").attr("dy",-3).attr("dx",3).text(" (km)");
 }
});

const lg=svg.append("g");
const lx=d3.scaleLinear().domain([0,7]).range([121,563]);
lg.append("rect").attr("x",100.5).attr("y",580.5).attr("width",505.5).attr("height",32.5).attr("fill","#fff").attr("stroke","#555");
lg.append("line").attr("x1",100.5).attr("x2",606).attr("y1",596.5).attr("y2",596.5).attr("stroke","#555");
const lt=lg.append("text").attr("x",353).attr("y",592.5).attr("text-anchor","middle").attr("font-size",12.5);
lt.append("tspan").text("Color legend for ");
lt.append("tspan").attr("font-style","italic").text("M");
lt.append("tspan").attr("font-style","italic").attr("dy",2).attr("font-size",9).text("W");
magnitudes.forEach((m,i)=>{
 lg.append("path").attr("d",diamond(3.2,4.5)).attr("transform",`translate(${lx(i)},605)`).attr("fill",colors[i]);
 lg.append("text").attr("x",lx(i)+30).attr("y",609).attr("text-anchor","middle").attr("font-size",12).text(m);
});
</script></body></html>
